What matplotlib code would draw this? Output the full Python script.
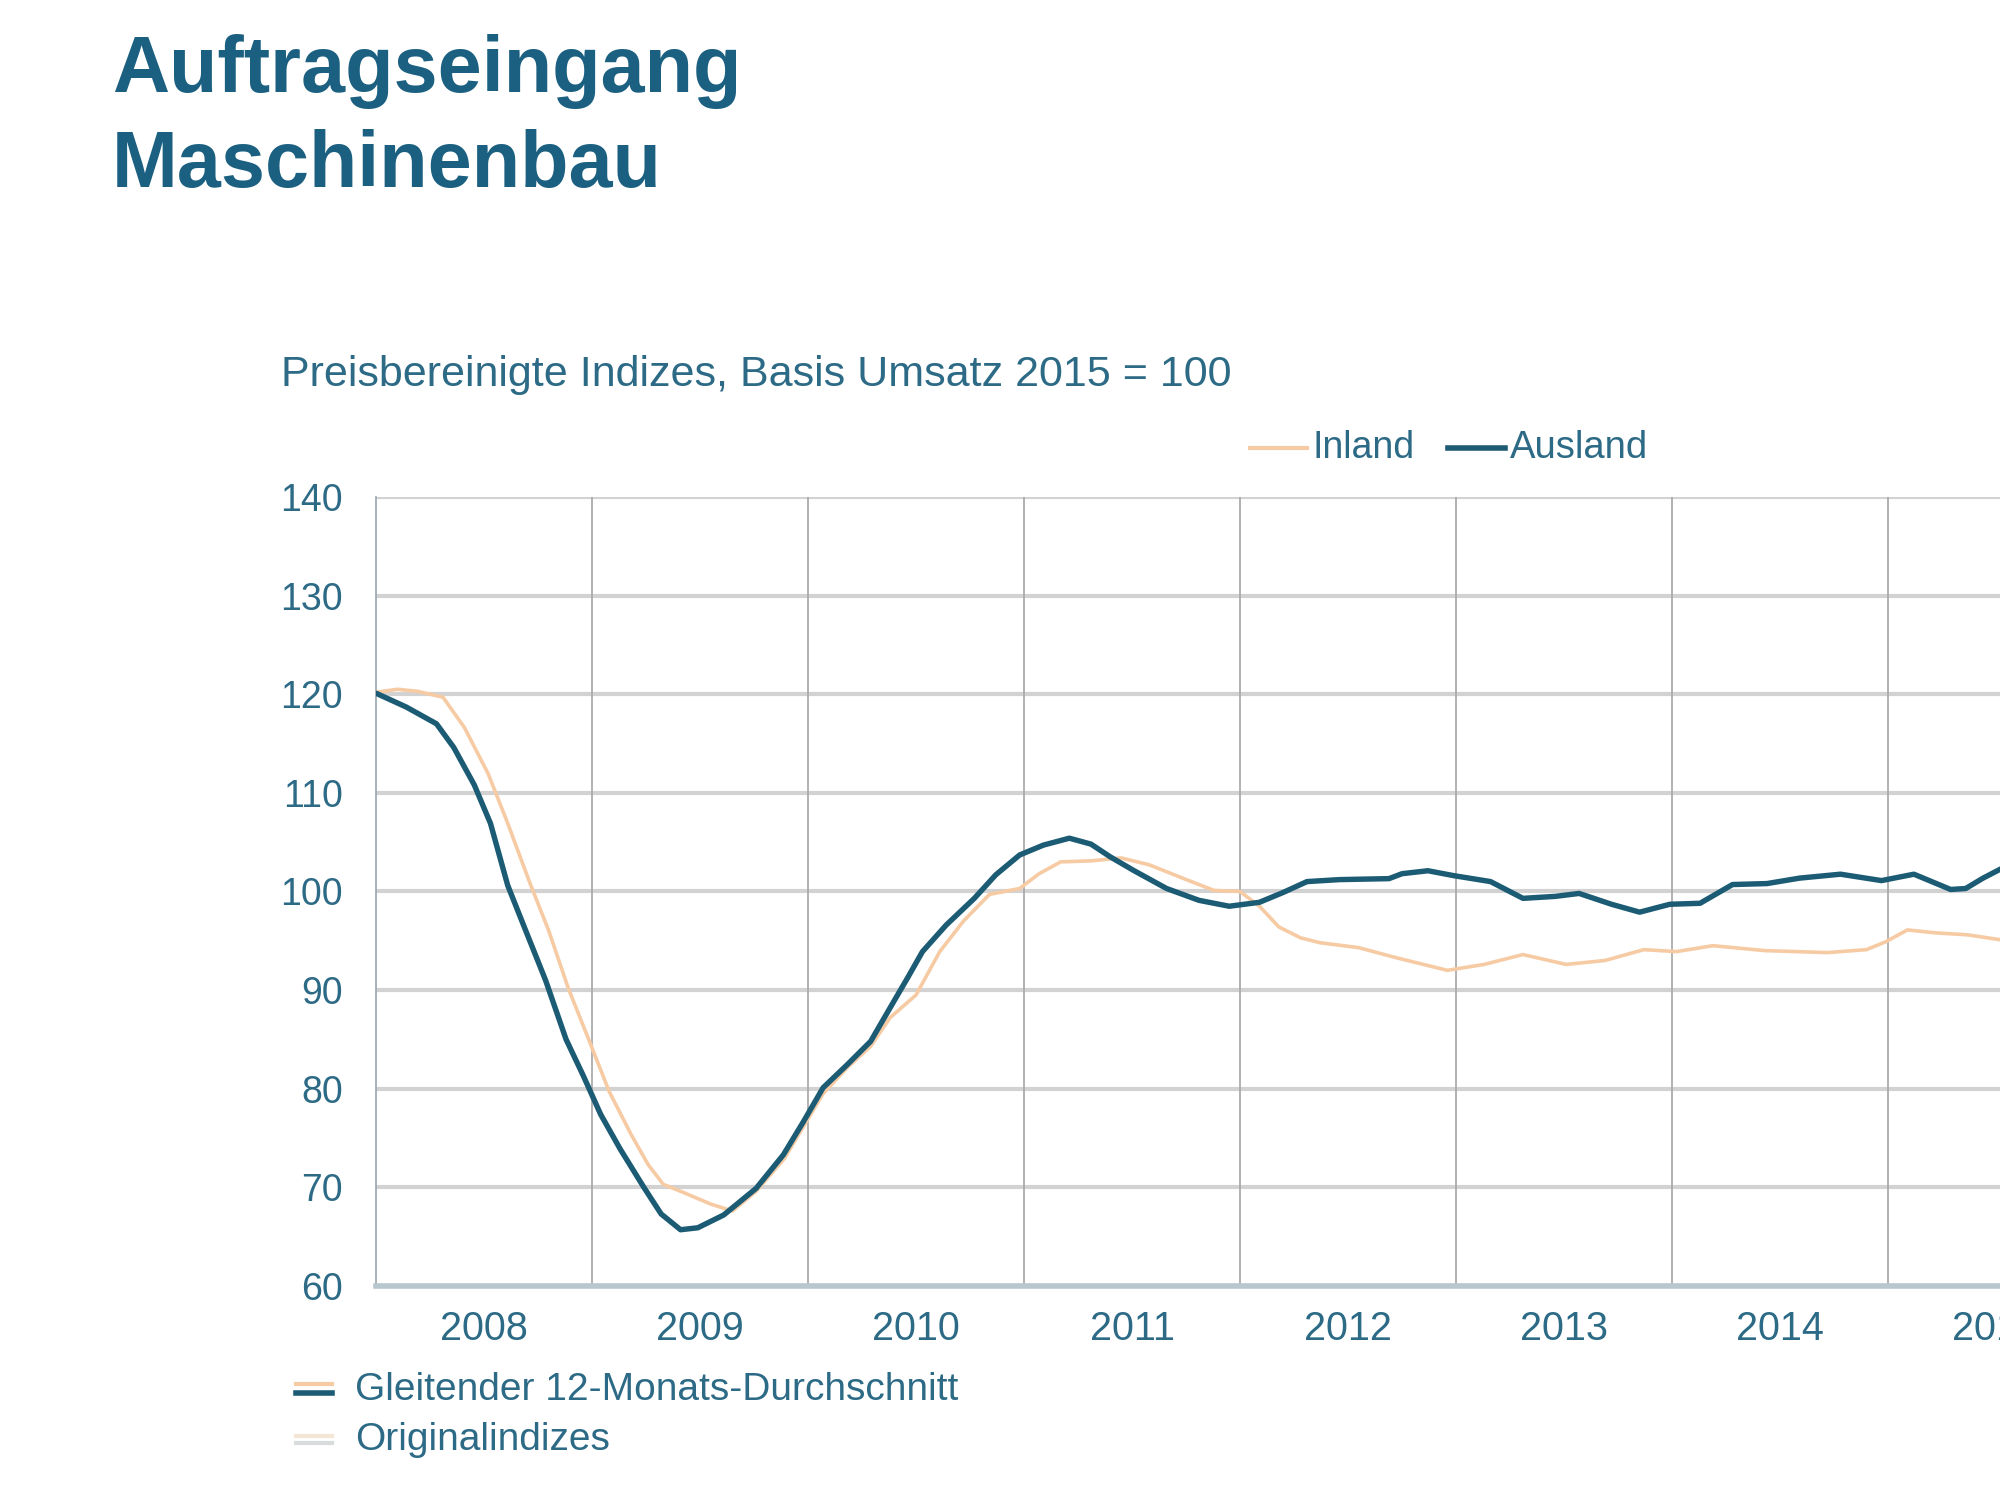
import matplotlib
matplotlib.use("Agg")
import matplotlib.pyplot as plt
from matplotlib.lines import Line2D

plt.rcParams['font.family'] = ['Liberation Sans', 'DejaVu Sans']

# ---------------- data ----------------
ausland_x = [2008.00, 2008.14, 2008.28, 2008.36, 2008.455, 2008.53, 2008.61, 2008.69,
             2008.785, 2008.88, 2008.96, 2009.04, 2009.13, 2009.24, 2009.32, 2009.41,
             2009.49, 2009.61, 2009.76, 2009.886, 2009.98, 2010.07, 2010.18, 2010.29,
             2010.38, 2010.46, 2010.53, 2010.64, 2010.77, 2010.87, 2010.98, 2011.09,
             2011.21, 2011.31, 2011.40, 2011.51, 2011.66, 2011.81, 2011.95, 2012.09,
             2012.20, 2012.31, 2012.46, 2012.69, 2012.75, 2012.87, 2012.99, 2013.16,
             2013.31, 2013.46, 2013.57, 2013.72, 2013.85, 2013.99, 2014.13, 2014.28,
             2014.44, 2014.59, 2014.78, 2014.97, 2015.12, 2015.29, 2015.36, 2015.44,
             2015.55]
ausland_y = [120.1, 118.7, 117.0, 114.6, 110.8, 106.9, 100.6, 96.2,
             91.0, 85.0, 81.3, 77.4, 73.9, 70.0, 67.3, 65.7,
             65.9, 67.2, 69.9, 73.3, 76.7, 80.1, 82.4, 84.8,
             88.2, 91.2, 93.9, 96.6, 99.3, 101.7, 103.7, 104.7,
             105.4, 104.8, 103.5, 102.1, 100.3, 99.1, 98.5, 98.9,
             99.9, 101.0, 101.2, 101.3, 101.8, 102.1, 101.6, 101.0,
             99.3, 99.5, 99.8, 98.7, 97.9, 98.7, 98.8, 100.7,
             100.8, 101.35, 101.75, 101.1, 101.75, 100.2, 100.3, 101.35,
             102.6]

inland_x = [2008.00, 2008.10, 2008.19, 2008.31, 2008.41, 2008.52, 2008.61, 2008.71,
            2008.80, 2008.89, 2008.99, 2009.08, 2009.18, 2009.26, 2009.33, 2009.41,
            2009.55, 2009.65, 2009.76, 2009.89, 2009.98, 2010.07, 2010.18, 2010.29,
            2010.38, 2010.50, 2010.61, 2010.72, 2010.84, 2010.98, 2011.07, 2011.17,
            2011.31, 2011.45, 2011.58, 2011.74, 2011.88, 2012.00, 2012.09, 2012.18,
            2012.28, 2012.37, 2012.55, 2012.72, 2012.96, 2013.13, 2013.31, 2013.51,
            2013.69, 2013.87, 2014.02, 2014.19, 2014.43, 2014.72, 2014.90, 2014.99,
            2015.09, 2015.22, 2015.37, 2015.55]
inland_y = [120.2, 120.5, 120.3, 119.7, 116.6, 111.9, 106.9, 101.0,
            96.0, 90.2, 84.7, 79.7, 75.4, 72.3, 70.3, 69.6,
            68.3, 67.6, 69.6, 72.9, 76.2, 79.5, 82.1, 84.3,
            87.2, 89.5, 93.9, 97.0, 99.7, 100.3, 101.8, 103.0,
            103.1, 103.4, 102.7, 101.3, 100.1, 100.0, 98.5, 96.4,
            95.3, 94.8, 94.3, 93.3, 92.0, 92.6, 93.6, 92.6,
            93.0, 94.1, 93.9, 94.5, 94.0, 93.8, 94.1, 94.9,
            96.1, 95.8, 95.6, 95.0]

year_labels = ['2008', '2009', '2010', '2011', '2012', '2013', '2014', '2015', '2016']
y_ticks = [60, 70, 80, 90, 100, 110, 120, 130, 140]

# ---------------- style ----------------
DARK = '#1c5b74'
ORANGE = '#f6cba4'
TITLE_C = '#1b6080'
TEXT_C = '#2c6a86'

fig = plt.figure(figsize=(20, 15), dpi=100)
fig.patch.set_facecolor('white')

ax = fig.add_axes([0.188, 0.1427, 0.972, 0.526])
ax.set_xlim(2008, 2017)
ax.set_ylim(60, 140)

for yv in y_ticks[1:]:
    ax.axhline(yv, color='#d2d2d2', lw=3.0, zorder=1)
for k in range(1, len(year_labels)):
    ax.axvline(2008 + k, color='#a6a6a6', lw=1.2, zorder=1)

ax.plot(inland_x, inland_y, color=ORANGE, lw=2.6, zorder=3,
        solid_joinstyle='round', solid_capstyle='round')
ax.plot(ausland_x, ausland_y, color=DARK, lw=3.9, zorder=4,
        solid_joinstyle='round', solid_capstyle='round')

ax.set_yticks(y_ticks)
ax.set_yticklabels([str(v) for v in y_ticks])
ax.set_xticks([2008 + k for k in range(len(year_labels))])
ax.set_xticklabels([])
ax.set_xticks([2008.5 + k for k in range(len(year_labels))], minor=True)
ax.set_xticklabels(year_labels, minor=True)
ax.tick_params(axis='both', which='both', length=0, labelcolor=TEXT_C, labelsize=27)
ax.tick_params(axis='x', which='minor', labelsize=28.5, pad=17)
ax.tick_params(axis='y', pad=24)

for s in ['top', 'right']:
    ax.spines[s].set_visible(False)
ax.spines['left'].set_color('#9aa7ae')
ax.spines['left'].set_linewidth(1.2)
ax.spines['bottom'].set_color('#b8c6ce')
ax.spines['bottom'].set_linewidth(4)

# ---------------- titles ----------------
fig.text(0.056, 1 - 92 / 1500, 'Auftragseingang', fontsize=57, fontweight='bold',
         color=TITLE_C, va='baseline', ha='left')
fig.text(0.056, 1 - 187 / 1500, 'Maschinenbau', fontsize=57, fontweight='bold',
         color=TITLE_C, va='baseline', ha='left')
fig.text(281 / 2000, 1 - 386 / 1500, 'Preisbereinigte Indizes, Basis Umsatz 2015 = 100',
         fontsize=31, color=TEXT_C, va='baseline', ha='left')

# ---------------- top legend ----------------
ly = 1 - 448 / 1500
fig.add_artist(Line2D([1250 / 2000, 1307 / 2000], [ly, ly], color=ORANGE, lw=3))
fig.text(1313 / 2000, ly, 'Inland', fontsize=27, color=TEXT_C, va='center', ha='left')
fig.add_artist(Line2D([1448 / 2000, 1505 / 2000], [ly, ly], color=DARK, lw=4))
fig.text(1510 / 2000, ly, 'Ausland', fontsize=27.5, color=TEXT_C, va='center', ha='left')

# ---------------- bottom legend ----------------
g1 = 1 - 1390 / 1500
fig.add_artist(Line2D([296 / 2000, 332 / 2000], [g1 + 0.004, g1 + 0.004], color=ORANGE, lw=3))
fig.add_artist(Line2D([296 / 2000, 332 / 2000], [g1 - 0.002, g1 - 0.002], color=DARK, lw=4))
fig.text(355 / 2000, g1, 'Gleitender 12-Monats-Durchschnitt', fontsize=28, color=TEXT_C,
         va='center', ha='left')
g2 = 1 - 1440 / 1500
fig.add_artist(Line2D([296 / 2000, 332 / 2000], [g2 + 0.003, g2 + 0.003], color='#f3e6d6', lw=3))
fig.add_artist(Line2D([296 / 2000, 332 / 2000], [g2 - 0.002, g2 - 0.002], color='#d9dcdd', lw=3))
fig.text(355 / 2000, g2, 'Originalindizes', fontsize=28, color=TEXT_C,
         va='center', ha='left')

fig.savefig('out.png', dpi=100, facecolor='white')
